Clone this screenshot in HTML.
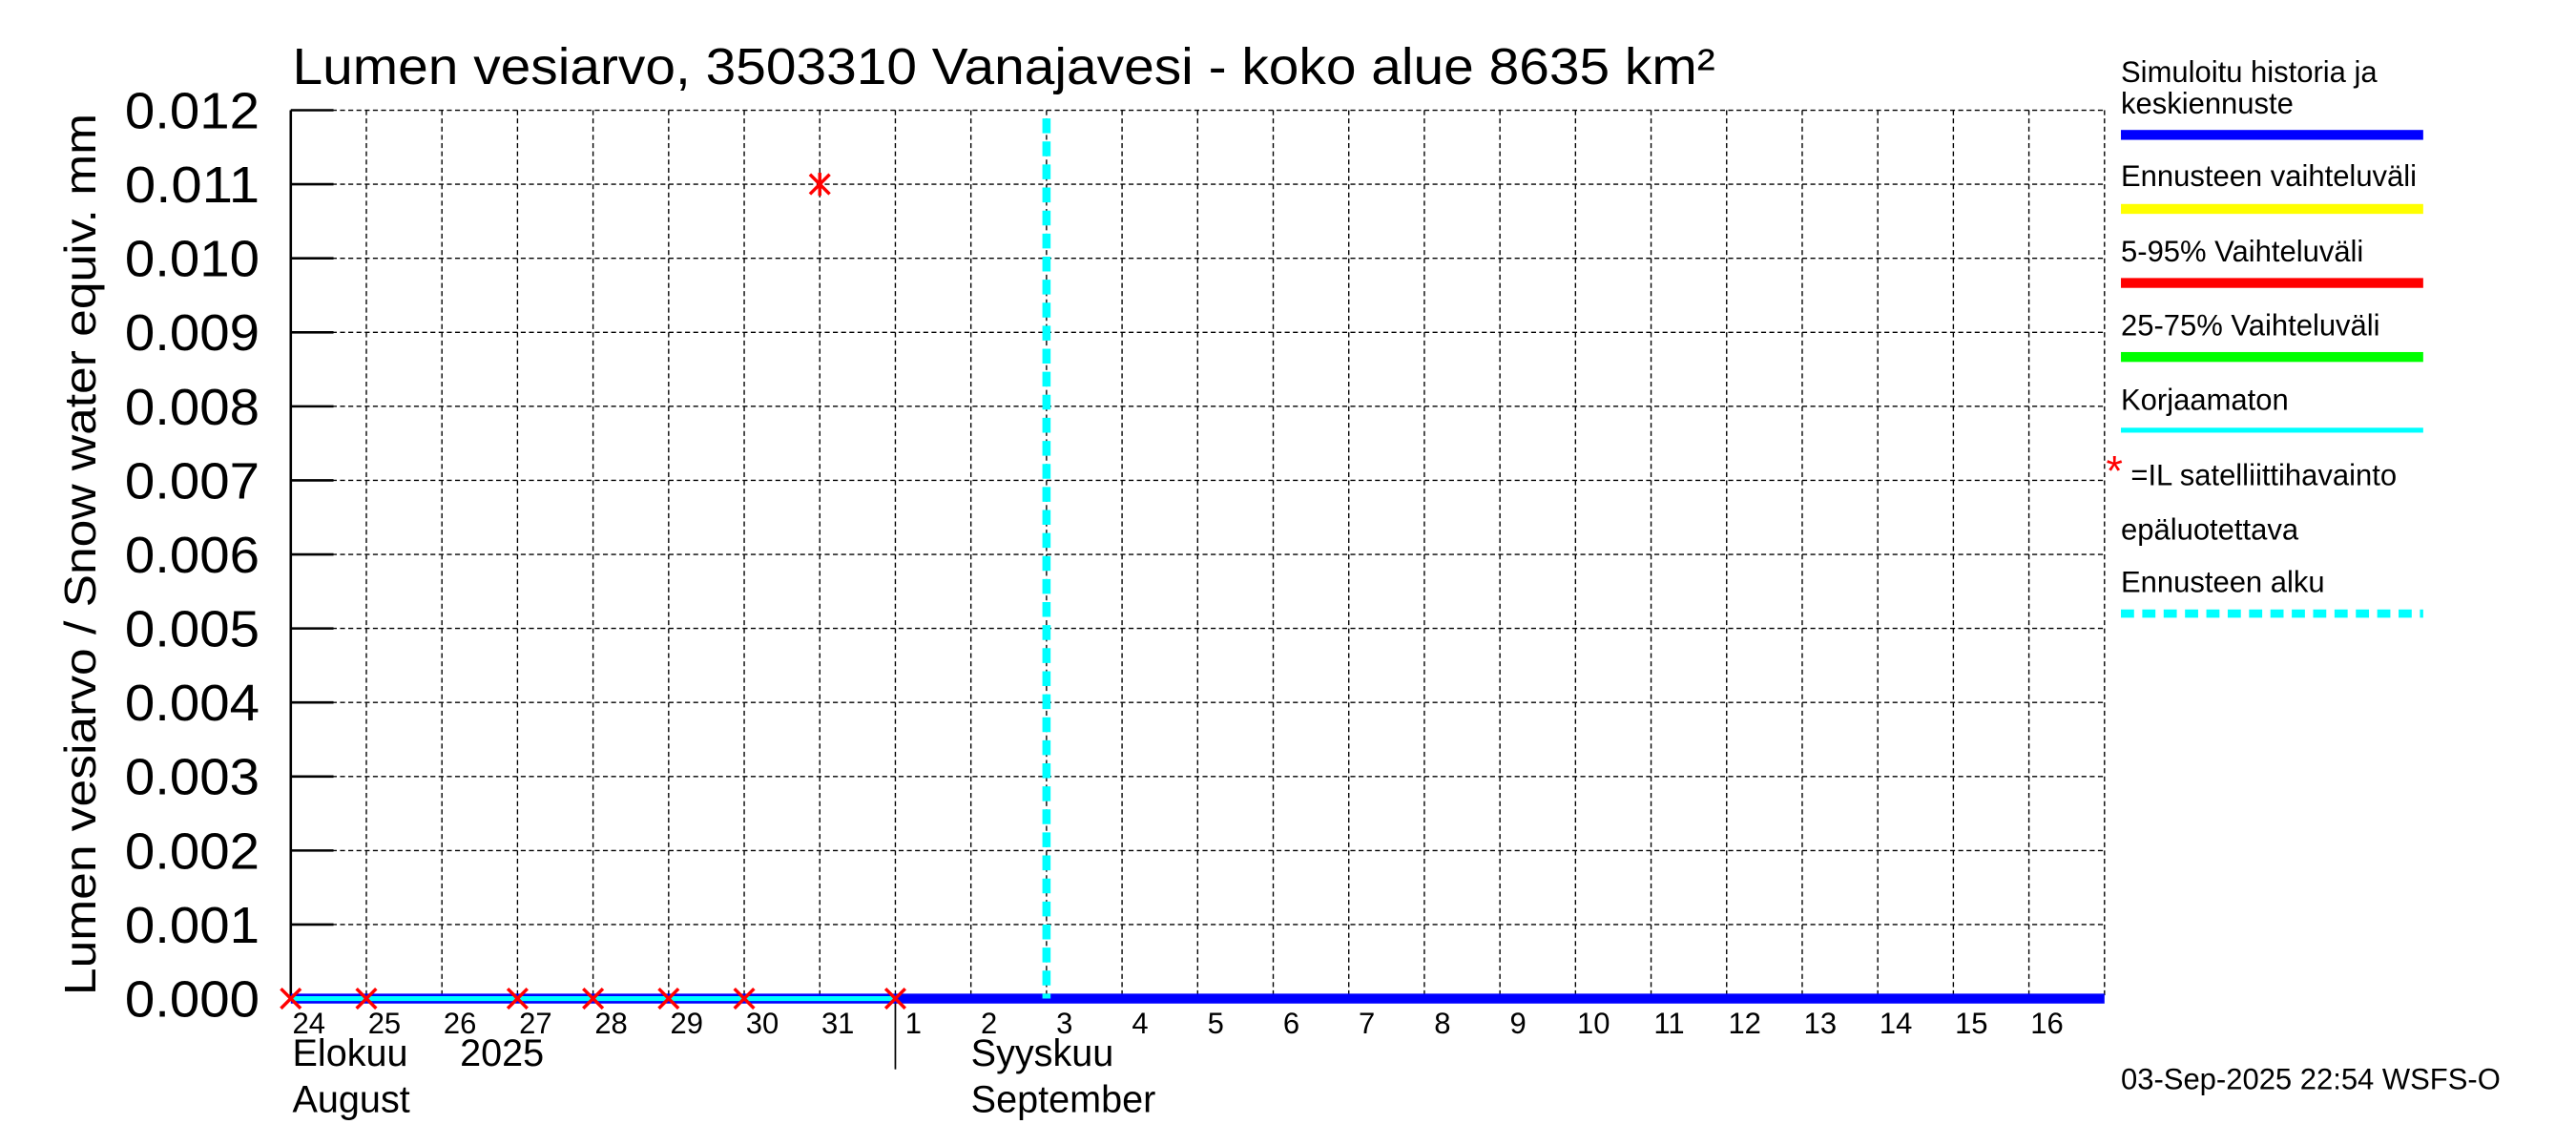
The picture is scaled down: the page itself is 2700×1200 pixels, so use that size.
<!DOCTYPE html>
<html><head><meta charset="utf-8"><style>
html,body{margin:0;padding:0;background:#fff;}
svg{display:block;font-family:"Liberation Sans",sans-serif;}
</style></head><body>
<svg id="chart" width="2700" height="1200" viewBox="0 0 1568 696" preserveAspectRatio="none" xmlns="http://www.w3.org/2000/svg">
<rect width="1568" height="696" fill="#fff"/>
<text x="178" y="51" font-size="31" textLength="866" lengthAdjust="spacingAndGlyphs">Lumen vesiarvo, 3503310 Vanajavesi - koko alue 8635 km²</text>
<text transform="translate(58,337) rotate(-90)" text-anchor="middle" font-size="27" textLength="536" lengthAdjust="spacingAndGlyphs">Lumen vesiarvo / Snow water equiv.    mm</text>
<g id="grid"></g>
<g id="axes"></g>
<g id="series"></g>
<g id="legend" font-size="18">
<text x="1291" y="50">Simuloitu historia ja</text>
<text x="1291" y="69">keskiennuste</text>
<rect x="1291" y="79" width="184" height="6" fill="#0000ff"/>
<text x="1291" y="113">Ennusteen vaihteluväli</text>
<rect x="1291" y="124" width="184" height="6" fill="#ffff00"/>
<text x="1291" y="159">5-95% Vaihteluväli</text>
<rect x="1291" y="169" width="184" height="6" fill="#ff0000"/>
<text x="1291" y="204">25-75% Vaihteluväli</text>
<rect x="1291" y="214" width="184" height="6" fill="#00ff00"/>
<text x="1291" y="249">Korjaamaton</text>
<rect x="1291" y="260" width="184" height="3" fill="#00ffff"/>
<text x="1282" y="295" font-size="26" fill="#ff0000">*</text>
<text x="1297" y="295">=IL satelliittihavainto</text>
<text x="1291" y="328">epäluotettava</text>
<text x="1291" y="360">Ennusteen alku</text>
<line x1="1291" y1="373" x2="1475" y2="373" stroke="#00ffff" stroke-width="5" stroke-dasharray="8,5"/>
</g>
<text x="1291" y="662" font-size="18">03-Sep-2025 22:54 WSFS-O</text>
</svg>
<script>
const dayLabels=["24","25","26","27","28","29","30","31","1","2","3","4","5","6","7","8","9","10","11","12","13","14","15","16"];
const yTicks=[0,0.001,0.002,0.003,0.004,0.005,0.006,0.007,0.008,0.009,0.010,0.011,0.012];
const simDays=[0,8,24];
const simValues=[0,0,0];
const obsDays=[0,1,3,4,5,6,7,8];
const obsValues=[0,0,0,0,0,0,0.011,0];
const forecastStartDay=10;
const monthStartDay=8;

const NS="http://www.w3.org/2000/svg";
const L=177,R=1281,T=67,B=607,nDays=24,yMax=0.012;
const xs=d=>L+(R-L)*d/nDays;
const ys=v=>B-(B-T)*v/yMax;
function mk(tag,attrs,parent){const e=document.createElementNS(NS,tag);for(const k in attrs)e.setAttribute(k,attrs[k]);parent.appendChild(e);return e;}
const grid=document.getElementById('grid'),axes=document.getElementById('axes'),ser=document.getElementById('series');
yTicks.forEach((v,i)=>{
  const g=mk('line',{x1:L,x2:R,y1:ys(v),y2:ys(v),stroke:'#000','stroke-width':0.8,'stroke-dasharray':'3,2'},grid);
  
  
  const t=mk('line',{x1:L,x2:L+26,y1:ys(v),y2:ys(v),stroke:'#000','stroke-width':1.5},axes);
  
  
  const lb=mk('text',{x:158,y:ys(v)+11,'text-anchor':'end','font-size':31,textLength:82,lengthAdjust:'spacingAndGlyphs'},axes);
  lb.textContent=v.toFixed(3);
  
  
});
for(let d=1;d<=nDays;d++){
  const g=mk('line',{x1:xs(d),x2:xs(d),y1:T,y2:B,stroke:'#000','stroke-width':0.8,'stroke-dasharray':'3,2'},grid);
  
  
}
dayLabels.forEach((s,i)=>{
  const lb=mk('text',{x:xs(i)+11,y:628,'text-anchor':'middle','font-size':18},axes);
  lb.textContent=s;
  
  
});
const ax=mk('line',{x1:L,x2:L,y1:T,y2:B,stroke:'#000','stroke-width':1.5},axes);


const ms=mk('line',{x1:xs(monthStartDay),x2:xs(monthStartDay),y1:B,y2:650,stroke:'#000','stroke-width':1},axes);


[["Elokuu",178,648],["2025",280,648],["August",178,676],["Syyskuu",591,648],["September",591,676]].forEach(m=>{
  const t=mk('text',{x:m[1],y:m[2],'font-size':23},axes);t.textContent=m[0];
  
  
});
const h1=mk('line',{x1:xs(simDays[0]),x2:xs(simDays[1]),y1:ys(simValues[0]),y2:ys(simValues[1]),stroke:'#0000ff','stroke-width':6},ser);


const c1=mk('line',{x1:xs(simDays[0]),x2:xs(simDays[1]),y1:ys(simValues[0]),y2:ys(simValues[1]),stroke:'#00ffff','stroke-width':3},ser);


const f1=mk('line',{x1:xs(simDays[1]),x2:xs(simDays[2]),y1:ys(simValues[1]),y2:ys(simValues[2]),stroke:'#0000ff','stroke-width':6},ser);


const fs=mk('line',{x1:xs(forecastStartDay),x2:xs(forecastStartDay),y1:T+5,y2:B,stroke:'#00ffff','stroke-width':5,'stroke-dasharray':'9,5'},ser);


obsDays.forEach((d,i)=>{
  const x=xs(d),y=ys(obsValues[i]),s=6;
  const g=mk('g',{stroke:'#ff0000','stroke-width':2},ser);
  
  
  mk('line',{x1:x-s,y1:y-s,x2:x+s,y2:y+s},g);
  mk('line',{x1:x-s,y1:y+s,x2:x+s,y2:y-s},g);
  if(obsValues[i]>0)mk('line',{x1:x,y1:y-s-1,x2:x,y2:y+s+1},g);
});
</script>
</body></html>
